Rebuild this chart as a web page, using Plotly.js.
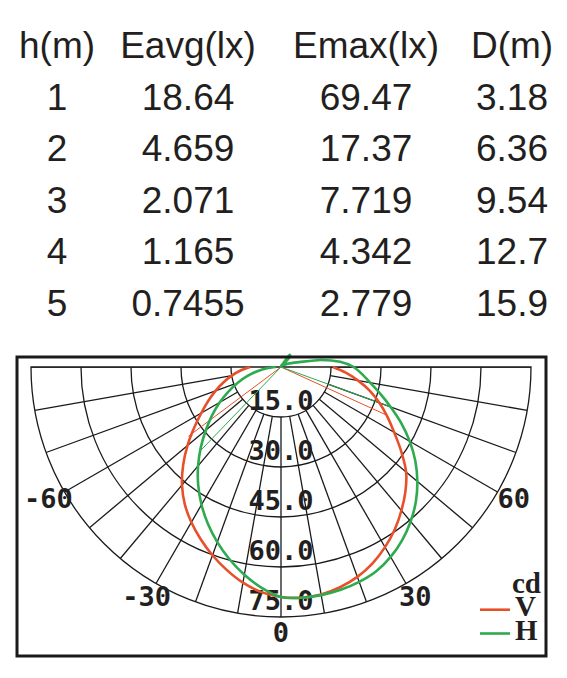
<!DOCTYPE html>
<html>
<head>
<meta charset="utf-8">
<script src="https://cdn.plot.ly/plotly-3.0.1.min.js"></script>
<style>html,body{margin:0;padding:0;background:#fff;}#chart{width:567px;height:678px;}</style>
</head>
<body>
<div id="chart"></div>
<script>
// ---- table data ----
const headers = ['h(m)', 'Eavg(lx)', 'Emax(lx)', 'D(m)'];
const heights = ['1', '2', '3', '4', '5'];
const eavg = ['18.64', '4.659', '2.071', '1.165', '0.7455'];
const emax = ['69.47', '17.37', '7.719', '4.342', '2.779'];
const diam = ['3.18', '6.36', '9.54', '12.7', '15.9'];

// ---- polar curve data (angle in degrees from nadir, intensity in cd) ----
const vTheta = [-90,-85,-80,-75,-70,-65,-60,-55,-50,-45,-40,-35,-30,-25,-20,-15,-10,-5,0,5,10,15,20,25,30,35,40,45,50,55,60,65,70,75,80,85,90];
const vCd    = [9.3,12.2,15.0,17.9,20.9,24.1,27.6,31.8,36.6,41.5,46.2,50.3,53.8,57.0,60.1,63.0,65.7,67.8,69.0,69.47,69.3,68.4,67.0,65.0,62.4,59.5,56.2,52.8,49.0,44.0,39.2,35.2,31.4,27.6,23.5,19.5,15.6];
const hTheta = [-90,-85,-80,-75,-70,-65,-60,-55,-50,-45,-40,-35,-30,-25,-20,-15,-10,-5,0,5,10,15,20,25,30,35,40,45,50,55,60,65,70,75,80,85,90,95,100,105,115,130,140,145,150,165,180];
const hCd    = [1.5,4.2,7.2,10.4,13.8,17.4,21.2,25.2,29.4,34.0,38.7,43.3,47.7,51.9,55.9,59.7,63.3,66.5,69.0,69.5,69.5,69.2,68.6,67.6,65.8,63.4,60.5,57.2,53.4,49.2,44.6,39.8,35.0,30.8,27.2,24.4,21.8,17.8,12.2,5.6,2.5,1.0,4.3,4.5,1.0,0.5,0];
// half-maximum beam lines
const halfMax = 34.7;
const vBeam = [-53.2, 65.5];
const hBeam = [-43.9, 70.0];

// ---- axis ticks ----
const radialTicks = [15, 30, 45, 60, 75];
const radialTickText = ['15.0', '30.0', '45.0', '60.0', '75.0'];
const angTicks = [-60, -30, 0, 30, 60];
const angTickText = ['-60', '-30', '0', '30', '60'];
const angLabelR = 80.6;      // label ring just outside the 75 cd arc
const gridStep = 10;

const W = 567, H = 678;
const cx = 281, cy = 367, R = 250;      // polar centre / radius (75 cd) in px
const rMax = 75, rOuter = 82;           // overlay subplot reaches a bit further out
const R2 = R * rOuter / rMax;

// spokes from first ring to the outer ring
const spokeT = [], spokeR = [];
for (let a = -90; a <= 90; a += gridStep) {
  spokeT.push(a, a, null);
  spokeR.push(radialTicks[0], rMax, null);
}
function beam(angles) {
  const t = [], r = [];
  angles.forEach(a => { t.push(a, a, null); r.push(0, halfMax, null); });
  return {t, r};
}
const vb = beam(vBeam), hb = beam(hBeam);

const monoBold = {family: 'DejaVu Sans Mono', size: 27, weight: 'bold', color: '#231f20'};
const tableFont = {family: 'Liberation Sans, Arial, sans-serif', size: 37, color: '#231f20'};
const legFam = 'Liberation Serif, DejaVu Serif, serif';
const VCOL = '#e8502a', HCOL = '#2eaa4f';
const big = s => '<span style="font-size:29px">' + s + '</span>';

const data = [
  {
    type: 'table',
    domain: {x: [6 / W, 560 / W], y: [1 - 340 / H, 1 - 22 / H]},
    columnwidth: [102, 160, 196, 96],
    header: {values: headers, align: 'center', height: 52, font: tableFont,
             fill: {color: 'white'}, line: {color: 'white', width: 0}},
    cells: {values: [heights, eavg, emax, diam], align: 'center', height: 51.5, font: tableFont,
            fill: {color: 'white'}, line: {color: 'white', width: 0}}
  },
  {
    type: 'scatterpolar', subplot: 'polar', mode: 'lines', theta: spokeT, r: spokeR,
    line: {color: '#1a1a1a', width: 1.3}, hoverinfo: 'skip', showlegend: false
  },
  {
    type: 'scatterpolar', subplot: 'polar', mode: 'text',
    r: radialTicks, theta: radialTicks.map(() => 0), text: radialTickText,
    textposition: 'top center', textfont: monoBold,
    cliponaxis: false, hoverinfo: 'skip', showlegend: false
  },
  {
    type: 'scatterpolar', subplot: 'polar2', mode: 'text',
    r: angTicks.map(() => angLabelR), theta: angTicks, text: angTickText,
    textposition: 'middle center', textfont: monoBold,
    cliponaxis: false, hoverinfo: 'skip', showlegend: false
  },
  {
    type: 'scatterpolar', subplot: 'polar2', mode: 'lines', theta: vb.t, r: vb.r,
    line: {color: VCOL, width: 1}, hoverinfo: 'skip', showlegend: false
  },
  {
    type: 'scatterpolar', subplot: 'polar2', mode: 'lines', theta: hb.t, r: hb.r,
    line: {color: HCOL, width: 1}, hoverinfo: 'skip', showlegend: false
  },
  {
    type: 'scatterpolar', subplot: 'polar2', mode: 'lines', name: big('V'),
    theta: vTheta, r: vCd, line: {color: VCOL, width: 2.6, shape: 'spline', smoothing: 1}
  },
  {
    type: 'scatterpolar', subplot: 'polar2', mode: 'lines', name: big('H'),
    theta: hTheta, r: hCd, line: {color: HCOL, width: 2.6, shape: 'spline', smoothing: 0.8}
  }
];

const layout = {
  width: W, height: H,
  margin: {l: 0, r: 0, t: 0, b: 0},
  paper_bgcolor: 'white',
  showlegend: true,
  legend: {
    x: 543 / W, xanchor: 'right', y: (H - 651) / H, yanchor: 'bottom',
    bgcolor: 'rgba(0,0,0,0)', borderwidth: 0,
    font: {family: legFam, size: 16, weight: 'bold', color: '#231f20'},
    title: {text: big('cd'), side: 'top right',
            font: {family: legFam, size: 16, weight: 'bold', color: '#231f20'}},
    itemwidth: 30
  },
  polar: {
    domain: {x: [(cx - R) / W, (cx + R) / W], y: [(H - cy - R) / H, (H - cy) / H]},
    sector: [180, 360],
    bgcolor: 'white',
    angularaxis: {
      rotation: -90, direction: 'counterclockwise',
      showticklabels: false, showgrid: false,
      showline: true, linecolor: '#1a1a1a', linewidth: 1.3, ticks: ''
    },
    radialaxis: {
      range: [0, rMax], tickmode: 'array', tickvals: radialTicks,
      showticklabels: false, showgrid: true, gridcolor: '#1a1a1a', gridwidth: 1.3,
      showline: false, ticks: ''
    }
  },
  polar2: {
    domain: {x: [(cx - R2) / W, (cx + R2) / W], y: [(H - cy - R2) / H, (H - cy + R2) / H]},
    bgcolor: 'rgba(0,0,0,0)',
    angularaxis: {rotation: -90, direction: 'counterclockwise', visible: false},
    radialaxis: {range: [0, rOuter], visible: false}
  },
  shapes: [{
    type: 'rect', xref: 'paper', yref: 'paper',
    x0: 17 / W, x1: 546 / W, y0: (H - 656) / H, y1: (H - 357) / H,
    line: {color: '#1a1a1a', width: 3}
  }]
};

Plotly.newPlot('chart', data, layout, {staticPlot: true, displayModeBar: false});
</script>
</body>
</html>
